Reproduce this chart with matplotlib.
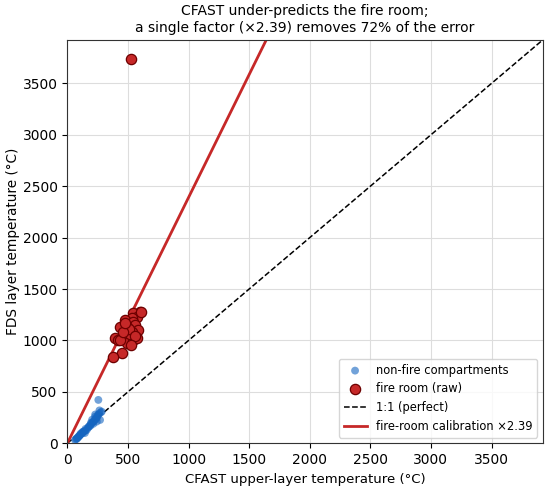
import numpy as np
import matplotlib
matplotlib.use('Agg')
import matplotlib.pyplot as plt

# Giá trị (°C)
SCALE = 2.39

cfast_nonfire = [64, 70, 77, 85, 92, 100, 105, 112, 120, 128, 132, 140, 150, 160, 170,
                 180, 190, 201, 210, 218, 225, 229, 235, 243, 250, 256, 262, 270, 276,
                 284, 256, 240, 205, 190, 150, 110, 95, 125, 145, 175, 215, 245, 265,
                 230, 195, 80]
fds_nonfire = [32, 40, 49, 55, 62, 72, 81, 88, 96, 104, 113, 118, 125, 130, 150,
               165, 180, 195, 205, 215, 225, 259, 240, 211, 270, 276, 290, 227, 300,
               308, 422, 245, 230, 170, 140, 95, 70, 110, 100, 160, 190, 250, 320,
               280, 200, 45]

cfast_fire = [600, 545, 572, 531, 476, 545, 558, 435, 490, 586, 531, 394, 421, 462,
              503, 490, 545, 572, 449, 380, 435, 520, 505, 460, 610, 560, 480, 525, 525]
fds_fire = [1281, 1266, 1233, 1217, 1200, 1184, 1152, 1135, 1135, 1103, 1087, 1022,
            1006, 1038, 1022, 974, 1006, 1022, 876, 843, 1000, 1060, 1110, 1080, 1280,
            1040, 1170, 960, 3739]

lim = 3922

fig = plt.figure(figsize=(5.5, 4.87), dpi=100)
ax = fig.add_axes([0.1224, 0.0897, 0.8643, 0.8282])

ax.scatter(cfast_nonfire, fds_nonfire, s=32, color='#1565c0', alpha=0.6,
           edgecolors='none', label='non-fire compartments', zorder=3)
ax.scatter(cfast_fire, fds_fire, s=55, color='#c62828', edgecolors='#6d0000',
           linewidths=0.9, label='fire room (raw)', zorder=4)

xx = np.array([0, lim])
ax.plot(xx, xx, color='black', linestyle='--', linewidth=1.1, label='1:1 (perfect)', zorder=2)
ax.plot(xx, SCALE * xx, color='#c62828', linewidth=2, label=f'fire-room calibration ×{SCALE}', zorder=2)

ax.set_xlim(0, lim)
ax.set_ylim(0, lim)
ax.set_xticks(np.arange(0, 3501, 500))
ax.set_yticks(np.arange(0, 3501, 500))
ax.tick_params(labelsize=10)
for sp in ax.spines.values():
    sp.set_color('#333333')
ax.grid(True, color='#dddddd', linewidth=0.8)
ax.set_axisbelow(True)
ax.set_xlabel('CFAST upper-layer temperature (°C)', fontsize=9.5)
ax.set_ylabel('FDS layer temperature (°C)', fontsize=9.8, labelpad=1.5)
ax.set_title('CFAST under-predicts the fire room;\na single factor (×2.39) removes 72% of the error',
             fontsize=10)
ax.legend(loc='lower right', fontsize=8.3)

fig.savefig('out.png', dpi=100)
